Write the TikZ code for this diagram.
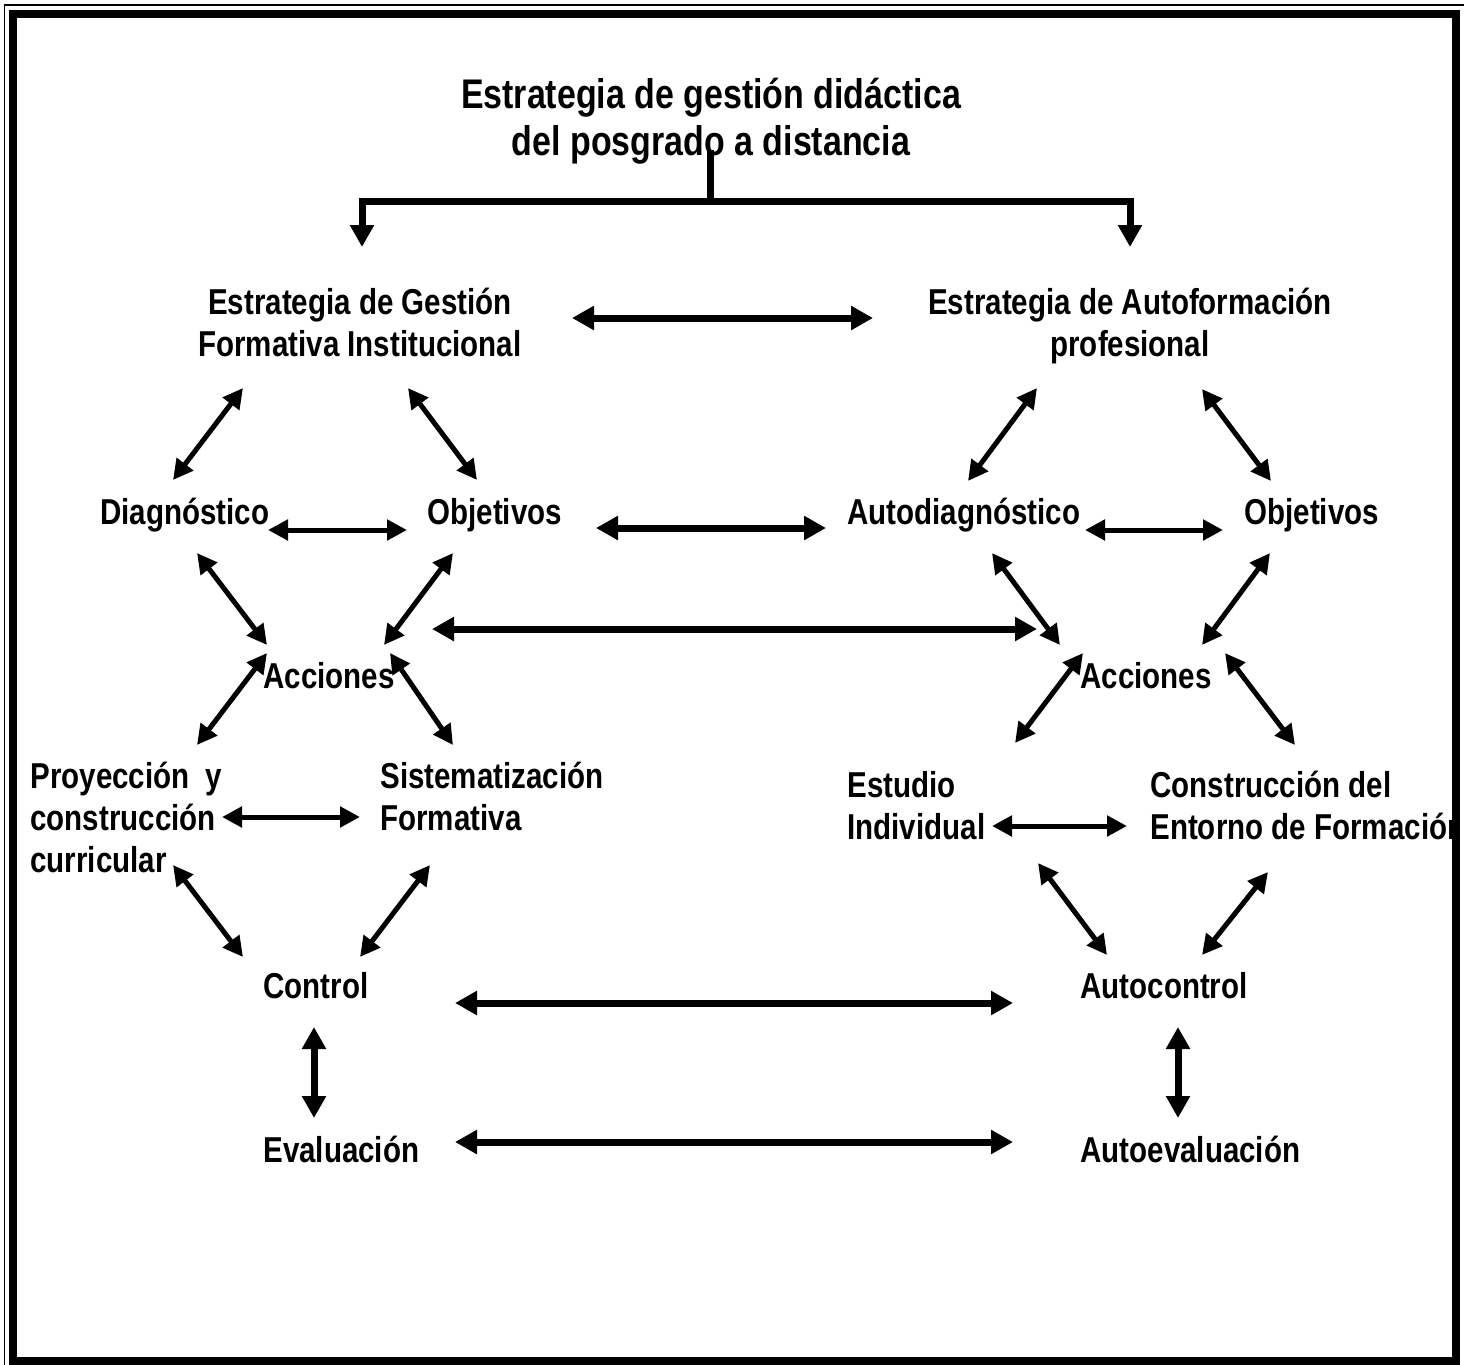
\documentclass[tikz,border=0pt]{standalone}
\usepackage{fontspec}
\setmainfont{Liberation Sans}[FakeStretch=0.82]
\usetikzlibrary{arrows.meta}
\tikzset{
  % testo dei blocchi
  lbl/.style={font=\bfseries\fontsize{18}{21}\selectfont, inner sep=0pt,
    align=left, anchor=base west},
  ctrlbl/.style={lbl, align=center, anchor=base},
  titlelbl/.style={font=\bfseries\fontsize{20.7}{23.5}\selectfont, inner sep=0pt,
    align=center, anchor=base},
  % frecce doppie
  link/.style={{Triangle[length=10pt,width=10pt]}-{Triangle[length=10pt,width=10pt]},
    line width=2.5pt},
  biglink/.style={{Triangle[length=11pt,width=11.5pt]}-{Triangle[length=11pt,width=11.5pt]},
    line width=3.5pt},
  branch/.style={line width=3.5pt, line join=miter},
}
\begin{document}
\begin{tikzpicture}[x=0.5pt, y=-0.5pt]
  \useasboundingbox (0,0) rectangle (1473,1365);
  \fill[white] (0,0) rectangle (1473,1365);

  % titolo e rami (base = ultima riga)
  \node[titlelbl] (title) at (711,155) {Estrategia de gestión didáctica\\del posgrado a distancia};
  \node[ctrlbl] (gfi) at (360,356) {Estrategia de Gestión\\Formativa Institucional};
  \node[ctrlbl] (afp) at (1130,356) {Estrategia de Autoformación\\profesional};

  % lato istituzionale
  \node[lbl] (diag) at (100,524) {Diagnóstico};
  \node[lbl] (obja) at (427,524) {Objetivos};
  \node[lbl] (acca) at (263,688) {Acciones};
  \node[lbl] (proy) at (30,872) {Proyección\ \ y\\construcción\\curricular};
  \node[lbl] (sist) at (380,830) {Sistematización\\Formativa};
  \node[lbl] (ctrl) at (263,998) {Control};
  \node[lbl] (eval) at (263,1162) {Evaluación};

  % lato autoformazione
  \node[lbl] (adiag) at (847,524) {Autodiagnóstico};
  \node[lbl] (objb) at (1244,524) {Objetivos};
  \node[lbl] (accb) at (1080,688) {Acciones};
  \node[lbl] (estu) at (847,839) {Estudio\\Individual};
  \node[lbl] (cons) at (1150,839) {Construcción del\\Entorno de Formación};
  \node[lbl] (actrl) at (1080,998) {Autocontrol};
  \node[lbl] (aeval) at (1080,1162) {Autoevaluación};

  % estremi delle frecce
  \foreach \n/\x/\y in {stem/710/150, bar/710/201, tl/362/247, tr/1130/247,
      gd1/243/388, gd2/173/480, go1/408/388, go2/477/480, do1/268/530, do2/407/530,
      ad1/1037/388, ad2/968/481, ao1/1202/389, ao2/1271/481, dd1/1085/530, dd2/1223/530,
      da1/197/553, da2/267/645, oa1/453/553, oa2/384/645,
      xa1/992/553, xa2/1060/645, ya1/1270/553, ya2/1202/645,
      ap1/267/653, ap2/197/745, as1/390/653, as2/453/745,
      ae1/1083/653, ae2/1015/743, ac1/1225/653, ac2/1295/745,
      ps1/222/817, ps2/360/817, ec1/992/826, ec2/1127/826,
      pc1/173/865, pc2/243/957, sc1/430/865, sc2/360/957,
      eu1/1038/863, eu2/1107/955, cu1/1268/872, cu2/1202/955,
      h11/572/318, h12/873/318, h21/596/528, h22/826/528, h31/432/629, h32/1037/629,
      h41/455/1003, h42/1013/1003, h51/455/1142, h52/1013/1142,
      v11/314/1027, v12/314/1118, v21/1178/1027, v22/1178/1118}
    \coordinate (\n) at (\x,\y);

  \draw[branch] (stem) -- (bar);
  \draw[branch, {Triangle[length=11pt,width=11.5pt]}-{Triangle[length=11pt,width=11.5pt]}]
    (tl) |- (bar) -| (tr);

  \foreach \a/\b in {gd1/gd2, go1/go2, do1/do2, ad1/ad2, ao1/ao2, dd1/dd2,
      da1/da2, oa1/oa2, xa1/xa2, ya1/ya2, ap1/ap2, as1/as2, ae1/ae2, ac1/ac2,
      ps1/ps2, ec1/ec2, pc1/pc2, sc1/sc2, eu1/eu2, cu1/cu2}
    \draw[link] (\a) -- (\b);
  \foreach \a/\b in {h11/h12, h21/h22, h31/h32, h41/h42, h51/h52, v11/v12, v21/v22}
    \draw[biglink] (\a) -- (\b);

  % cornice
  \draw[line width=0.9pt] (4.5,5) rectangle (1463,1372);
  \draw[line width=4pt, white] (9,9.5) rectangle (1460,1366);
  \draw[line width=4pt] (13,14) rectangle (1456,1361);
\end{tikzpicture}
\end{document}
